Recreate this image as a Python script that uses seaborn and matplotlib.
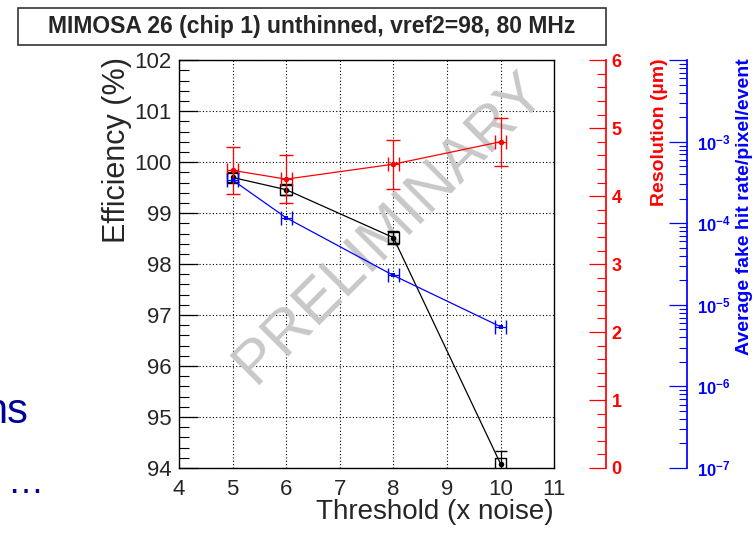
import numpy as np
import pandas as pd
import matplotlib
matplotlib.use("Agg")
import matplotlib.pyplot as plt
from matplotlib.patches import Rectangle
from matplotlib.ticker import MultipleLocator, FixedLocator, LogLocator, NullFormatter
import seaborn as sns

# data
threshold = [5, 6, 8, 10]
efficiency = [99.70, 99.46, 98.52, 94.08]
efficiency_err = [0.08, 0.10, 0.13, 0.25]
resolution = [4.38, 4.25, 4.47, 4.80]
resolution_err = [0.35, 0.35, 0.36, 0.35]
fake_rate = [3.4e-4, 1.17e-4, 2.3e-5, 5.4e-6]
x_err = [0.1, 0.1, 0.1, 0.1]

eff_ticks = [94, 95, 96, 97, 98, 99, 100, 101, 102]
res_ticks = [0, 1, 2, 3, 4, 5, 6]
rate_ticks = [1e-7, 1e-6, 1e-5, 1e-4, 1e-3, 1e-2]
rate_labels = [r"$\mathbf{10^{-7}}$", r"$\mathbf{10^{-6}}$", r"$\mathbf{10^{-5}}$",
               r"$\mathbf{10^{-4}}$", r"$\mathbf{10^{-3}}$", ""]

df = pd.DataFrame({"threshold": threshold, "efficiency": efficiency,
                   "resolution": resolution, "fake_rate": fake_rate})

sns.set_theme(style="white")
plt.rcParams["font.family"] = ["Liberation Sans", "DejaVu Sans"]
plt.rcParams["mathtext.fontset"] = "custom"
plt.rcParams["mathtext.rm"] = "Liberation Sans"
plt.rcParams["mathtext.bf"] = "Liberation Sans:bold"

RED = "#ff0000"
BLUE = "#0000ff"

fig = plt.figure(figsize=(7.55, 5.33), dpi=100)
ax = fig.add_axes([0.237, 0.122, 0.497, 0.765])

# efficiency (black)
sns.lineplot(data=df, x="threshold", y="efficiency", ax=ax, color="black",
             lw=0.9, marker="o", markersize=4, markeredgewidth=0, zorder=3)
ax.errorbar(threshold, efficiency, yerr=efficiency_err, fmt="none",
            ecolor="black", elinewidth=0.9, capsize=4, zorder=3)
ax.scatter(threshold, efficiency, marker="s", s=70, facecolors="none",
           edgecolors="black", linewidths=1.0, zorder=3)

ax.set_xlim(4, 11)
ax.set_ylim(94, 102)
ax.xaxis.set_major_locator(MultipleLocator(1))
ax.xaxis.set_minor_locator(MultipleLocator(0.2))
ax.yaxis.set_major_locator(FixedLocator(eff_ticks))
ax.yaxis.set_minor_locator(MultipleLocator(0.2))
ax.tick_params(axis="x", which="major", direction="in", length=8, width=0.9,
               labelsize=16, pad=8, top=False, color="black")
ax.tick_params(axis="x", which="minor", direction="in", length=4, width=0.8,
               top=False, color="black")
ax.tick_params(axis="y", which="major", direction="in", length=14, width=0.9,
               labelsize=16, pad=5, right=False, color="black")
ax.tick_params(axis="y", which="minor", direction="in", length=7.5, width=0.8,
               right=False, color="black")
ax.grid(True, which="major", linestyle=(0, (1, 2)), color="black", lw=0.8)
ax.set_xlabel("")
ax.set_ylabel("")
for s in ax.spines.values():
    s.set_color("black")
    s.set_linewidth(1.0)

ax.text(0.563, 0.588, "PRELIMINARY", transform=ax.transAxes, rotation=45,
        ha="center", va="center", fontsize=44, color="#c8c8c8", zorder=1)

# resolution (red axis)
ax2 = ax.twinx()
sns.lineplot(data=df, x="threshold", y="resolution", ax=ax2, color=RED,
             lw=0.9, marker="o", markersize=4, markeredgewidth=0)
ax2.errorbar(threshold, resolution, yerr=resolution_err, xerr=x_err, fmt="none",
             ecolor=RED, elinewidth=0.9, capsize=5)
ax2.set_ylim(0, 6)
ax2.yaxis.set_major_locator(FixedLocator(res_ticks))
ax2.yaxis.set_minor_locator(MultipleLocator(0.2))
ax2.spines["right"].set_position(("axes", 1.138))
for k in ["top", "left", "bottom"]:
    ax2.spines[k].set_visible(False)
ax2.spines["right"].set_color(RED)
ax2.tick_params(axis="y", which="major", direction="in", length=12, width=0.9,
                colors=RED, labelsize=13, pad=4)
ax2.tick_params(axis="y", which="minor", direction="in", length=6.5, width=0.8,
                colors=RED)
for t in ax2.get_yticklabels():
    t.set_fontweight("bold")
ax2.set_ylabel("")

# fake hit rate (blue log axis)
ax3 = ax.twinx()
sns.lineplot(data=df, x="threshold", y="fake_rate", ax=ax3, color=BLUE,
             lw=0.9, marker="s", markersize=3.5, markeredgewidth=0)
ax3.errorbar(threshold, fake_rate, xerr=x_err, fmt="none",
             ecolor=BLUE, elinewidth=0.9, capsize=5)
ax3.set_yscale("log")
ax3.set_ylim(1e-7, 1e-2)
ax3.yaxis.set_major_locator(FixedLocator(rate_ticks))
ax3.set_yticklabels(rate_labels)
ax3.yaxis.set_minor_locator(LogLocator(base=10, subs=np.arange(2, 10)))
ax3.yaxis.set_minor_formatter(NullFormatter())
ax3.spines["right"].set_position(("axes", 1.355))
for k in ["top", "left", "bottom"]:
    ax3.spines[k].set_visible(False)
ax3.spines["right"].set_color(BLUE)
ax3.tick_params(axis="y", which="major", direction="in", length=13, width=0.9,
                colors=BLUE, labelsize=12, pad=7)
ax3.tick_params(axis="y", which="minor", direction="in", length=6, width=0.8,
                colors=BLUE)
ax3.set_ylabel("")
ax3.set_xlim(4, 11)

# axis titles
fig.text(0.155, 0.893, "Efficiency (%)", rotation=90, ha="center", va="top",
         fontsize=22)
fig.text(0.733, 0.0263, "Threshold (x noise)", ha="right", va="baseline",
         fontsize=20)
fig.text(0.873, 0.891, "Resolution (\u00b5m)", rotation=90, ha="center", va="top",
         fontsize=14, fontweight="bold", color=RED)
fig.text(0.986, 0.891, "Average fake hit rate/pixel/event", rotation=90,
         ha="center", va="top", fontsize=14, fontweight="bold", color=BLUE)

# title box
fig.patches.append(Rectangle((0.0238, 0.9156), 0.779, 0.0694,
                             transform=fig.transFigure, fill=False,
                             edgecolor="#333333", lw=1.2))
fig.text(0.413, 0.950, "MIMOSA 26 (chip 1) unthinned, vref2=98, 80 MHz",
         ha="center", va="center", fontsize=16.5, fontweight="bold")

# slide text fragments at the left edge
fig.text(0.037, 0.206, "ns", ha="right", va="baseline", fontsize=30,
         color="#000099")
fig.text(0.010, 0.075, "\u2026", ha="left", va="baseline", fontsize=26,
         color="#000099")

fig.savefig("out.png", dpi=100)
